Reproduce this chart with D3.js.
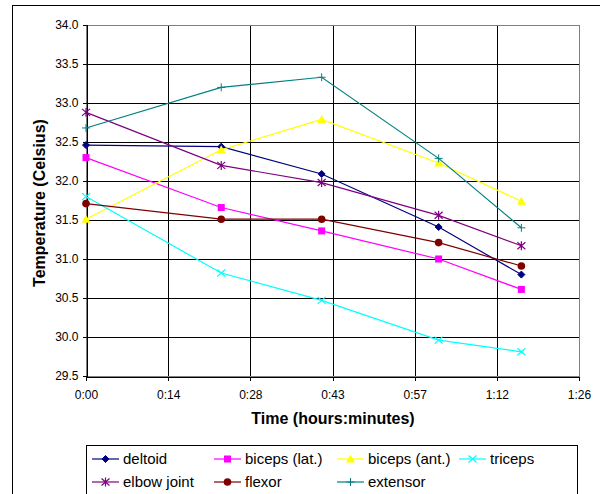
<!DOCTYPE html>
<html>
<head>
<meta charset="utf-8">
<script src="https://cdn.jsdelivr.net/npm/d3@7"></script>
<style>
  body { margin: 0; background: #fff; }
  svg { font-family: "Liberation Sans", Arial, sans-serif; }
</style>
</head>
<body>
<div id="chart"></div>
<script>
// sample times in minutes
const times = [0, 23.7, 41.3, 61.8, 76.3];
const xTickMinutes = [0, 14.4, 28.8, 43.2, 57.6, 72, 86.4];
const xTickLabels = ["0:00", "0:14", "0:28", "0:43", "0:57", "1:12", "1:26"];
const yTicks = [29.5, 30.0, 30.5, 31.0, 31.5, 32.0, 32.5, 33.0, 33.5, 34.0];

const seriesNames = ["deltoid", "biceps (lat.)", "biceps (ant.)", "triceps", "elbow joint", "flexor", "extensor"];
const deltoid = [32.46, 32.44, 32.09, 31.41, 30.80];
const bicepsLat = [32.30, 31.66, 31.36, 31.00, 30.61];
const bicepsAnt = [31.51, 32.40, 32.79, 32.23, 31.74];
const triceps = [31.80, 30.82, 30.47, 29.96, 29.81];
const elbowJoint = [32.88, 32.20, 31.98, 31.56, 31.17];
const flexor = [31.71, 31.51, 31.51, 31.21, 30.91];
const extensor = [32.68, 33.20, 33.33, 32.29, 31.40];

const colors = ["#000080", "#FF00FF", "#FFFF00", "#00FFFF", "#800080", "#800000", "#008080"];
const markers = ["diamond", "square", "triangle", "x", "star", "circle", "plus"];

const allValues = [deltoid, bicepsLat, bicepsAnt, triceps, elbowJoint, flexor, extensor];

const width = 600, height = 494;
const plot = {left: 86, right: 579, top: 25, bottom: 376};

const svg = d3.select("#chart").append("svg")
    .attr("width", width)
    .attr("height", height);

// outer chart border
svg.append("rect")
    .attr("x", 12.5).attr("y", 5.5)
    .attr("width", 700).attr("height", 600)
    .attr("fill", "#fff")
    .attr("stroke", "#000");

let x = d3.scaleLinear().domain([0, 86.4]).range([plot.left, plot.right]);
let y = d3.scaleLinear().domain([29.5, 34.0]).range([plot.bottom, plot.top]);

// grid
let grid = svg.append("g").attr("shape-rendering", "crispEdges");
grid.selectAll(".hgrid")
    .data(yTicks)
    .enter().append("line")
    .attr("x1", plot.left).attr("x2", plot.right)
    .attr("y1", d => Math.round(y(d)) + 0.5).attr("y2", d => Math.round(y(d)) + 0.5)
    .attr("stroke", "#000");
grid.selectAll(".vgrid")
    .data(xTickMinutes)
    .enter().append("line")
    .attr("x1", d => Math.round(x(d)) + 0.5).attr("x2", d => Math.round(x(d)) + 0.5)
    .attr("y1", plot.top).attr("y2", plot.bottom)
    .attr("stroke", "#000");

// plot border
svg.append("rect")
    .attr("x", plot.left + 0.5).attr("y", plot.top + 0.5)
    .attr("width", plot.right - plot.left).attr("height", plot.bottom - plot.top)
    .attr("fill", "none")
    .attr("stroke", "#808080")
    .attr("shape-rendering", "crispEdges");

// axes
let yAxis = d3.axisLeft(y)
    .tickValues(yTicks)
    .tickFormat(d3.format(".1f"))
    .tickSize(4)
    .tickPadding(4);
let yg = svg.append("g")
    .attr("transform", `translate(${plot.left + 0.5},0)`)
    .call(yAxis);

let xAxis = d3.axisBottom(x)
    .tickValues(xTickMinutes)
    .tickFormat((d, i) => xTickLabels[i])
    .tickSize(4)
    .tickPadding(10);
let xg = svg.append("g")
    .attr("transform", `translate(0,${plot.bottom + 0.5})`)
    .call(xAxis);

[yg, xg].forEach(g => {
    g.select(".domain").attr("stroke", "#000").attr("shape-rendering", "crispEdges");
    g.selectAll(".tick line").attr("stroke", "#000").attr("shape-rendering", "crispEdges");
    g.selectAll("text")
        .attr("font-family", "Liberation Sans, Arial, sans-serif")
        .attr("font-size", 12)
        .attr("fill", "#000");
});

// axis titles
svg.append("text")
    .attr("transform", `translate(45,203) rotate(-90)`)
    .attr("text-anchor", "middle")
    .attr("font-size", 16)
    .attr("font-weight", "bold")
    .text("Temperature (Celsius)");

svg.append("text")
    .attr("x", 333)
    .attr("y", 424)
    .attr("text-anchor", "middle")
    .attr("font-size", 16)
    .attr("font-weight", "bold")
    .text("Time (hours:minutes)");

// marker drawing
function drawMarker(g, type, color, cx, cy) {
    let s = 3.5;
    if (type === "diamond") {
        g.append("path")
            .attr("d", `M${cx},${cy - s}L${cx + s},${cy}L${cx},${cy + s}L${cx - s},${cy}Z`)
            .attr("fill", color).attr("stroke", color);
    } else if (type === "square") {
        g.append("rect")
            .attr("x", cx - 3.5).attr("y", cy - 3.5)
            .attr("width", 7).attr("height", 7)
            .attr("fill", color);
    } else if (type === "triangle") {
        g.append("path")
            .attr("d", `M${cx},${cy - 4.5}L${cx + 4.5},${cy + 3.5}L${cx - 4.5},${cy + 3.5}Z`)
            .attr("fill", color);
    } else if (type === "x") {
        g.append("path")
            .attr("d", `M${cx - 4},${cy - 3.5}L${cx + 4},${cy + 3.5}M${cx - 4},${cy + 3.5}L${cx + 4},${cy - 3.5}`)
            .attr("stroke", color).attr("stroke-width", 1.2).attr("fill", "none");
    } else if (type === "star") {
        g.append("path")
            .attr("d", `M${cx - 4},${cy - 3.5}L${cx + 4},${cy + 3.5}M${cx - 4},${cy + 3.5}L${cx + 4},${cy - 3.5}M${cx},${cy - 4.5}L${cx},${cy + 4.5}`)
            .attr("stroke", color).attr("stroke-width", 1.2).attr("fill", "none");
    } else if (type === "circle") {
        g.append("circle")
            .attr("cx", cx).attr("cy", cy).attr("r", 3.8)
            .attr("fill", color);
    } else if (type === "plus") {
        g.append("path")
            .attr("d", `M${cx - 4},${cy}L${cx + 4},${cy}M${cx},${cy - 4}L${cx},${cy + 4}`)
            .attr("stroke", color).attr("stroke-width", 1).attr("fill", "none");
    }
}

let line = d3.line()
    .x((d, i) => x(times[i]))
    .y(d => y(d));

allValues.forEach((vals, si) => {
    let g = svg.append("g");
    g.append("path")
        .datum(vals)
        .attr("d", line)
        .attr("fill", "none")
        .attr("stroke", colors[si])
        .attr("stroke-width", 1.2);
    vals.forEach((v, i) => drawMarker(g, markers[si], colors[si], x(times[i]), y(v)));
});

// legend
let legend = svg.append("g");
legend.append("rect")
    .attr("x", 86.5).attr("y", 445.5)
    .attr("width", 491).attr("height", 80)
    .attr("fill", "#fff")
    .attr("stroke", "#000")
    .attr("shape-rendering", "crispEdges");

const legendCols = [92, 214, 337, 459];
const legendRows = [459, 482];
seriesNames.forEach((name, i) => {
    let lx = legendCols[i % 4];
    let ly = legendRows[Math.floor(i / 4)];
    let g = legend.append("g");
    g.append("line")
        .attr("x1", lx).attr("x2", lx + 27)
        .attr("y1", ly).attr("y2", ly)
        .attr("stroke", colors[i]).attr("stroke-width", 1.2);
    drawMarker(g, markers[i], colors[i], lx + 13.5, ly);
    g.append("text")
        .attr("x", lx + 31)
        .attr("y", ly + 5)
        .attr("font-size", 15)
        .text(name);
});
</script>
</body>
</html>
